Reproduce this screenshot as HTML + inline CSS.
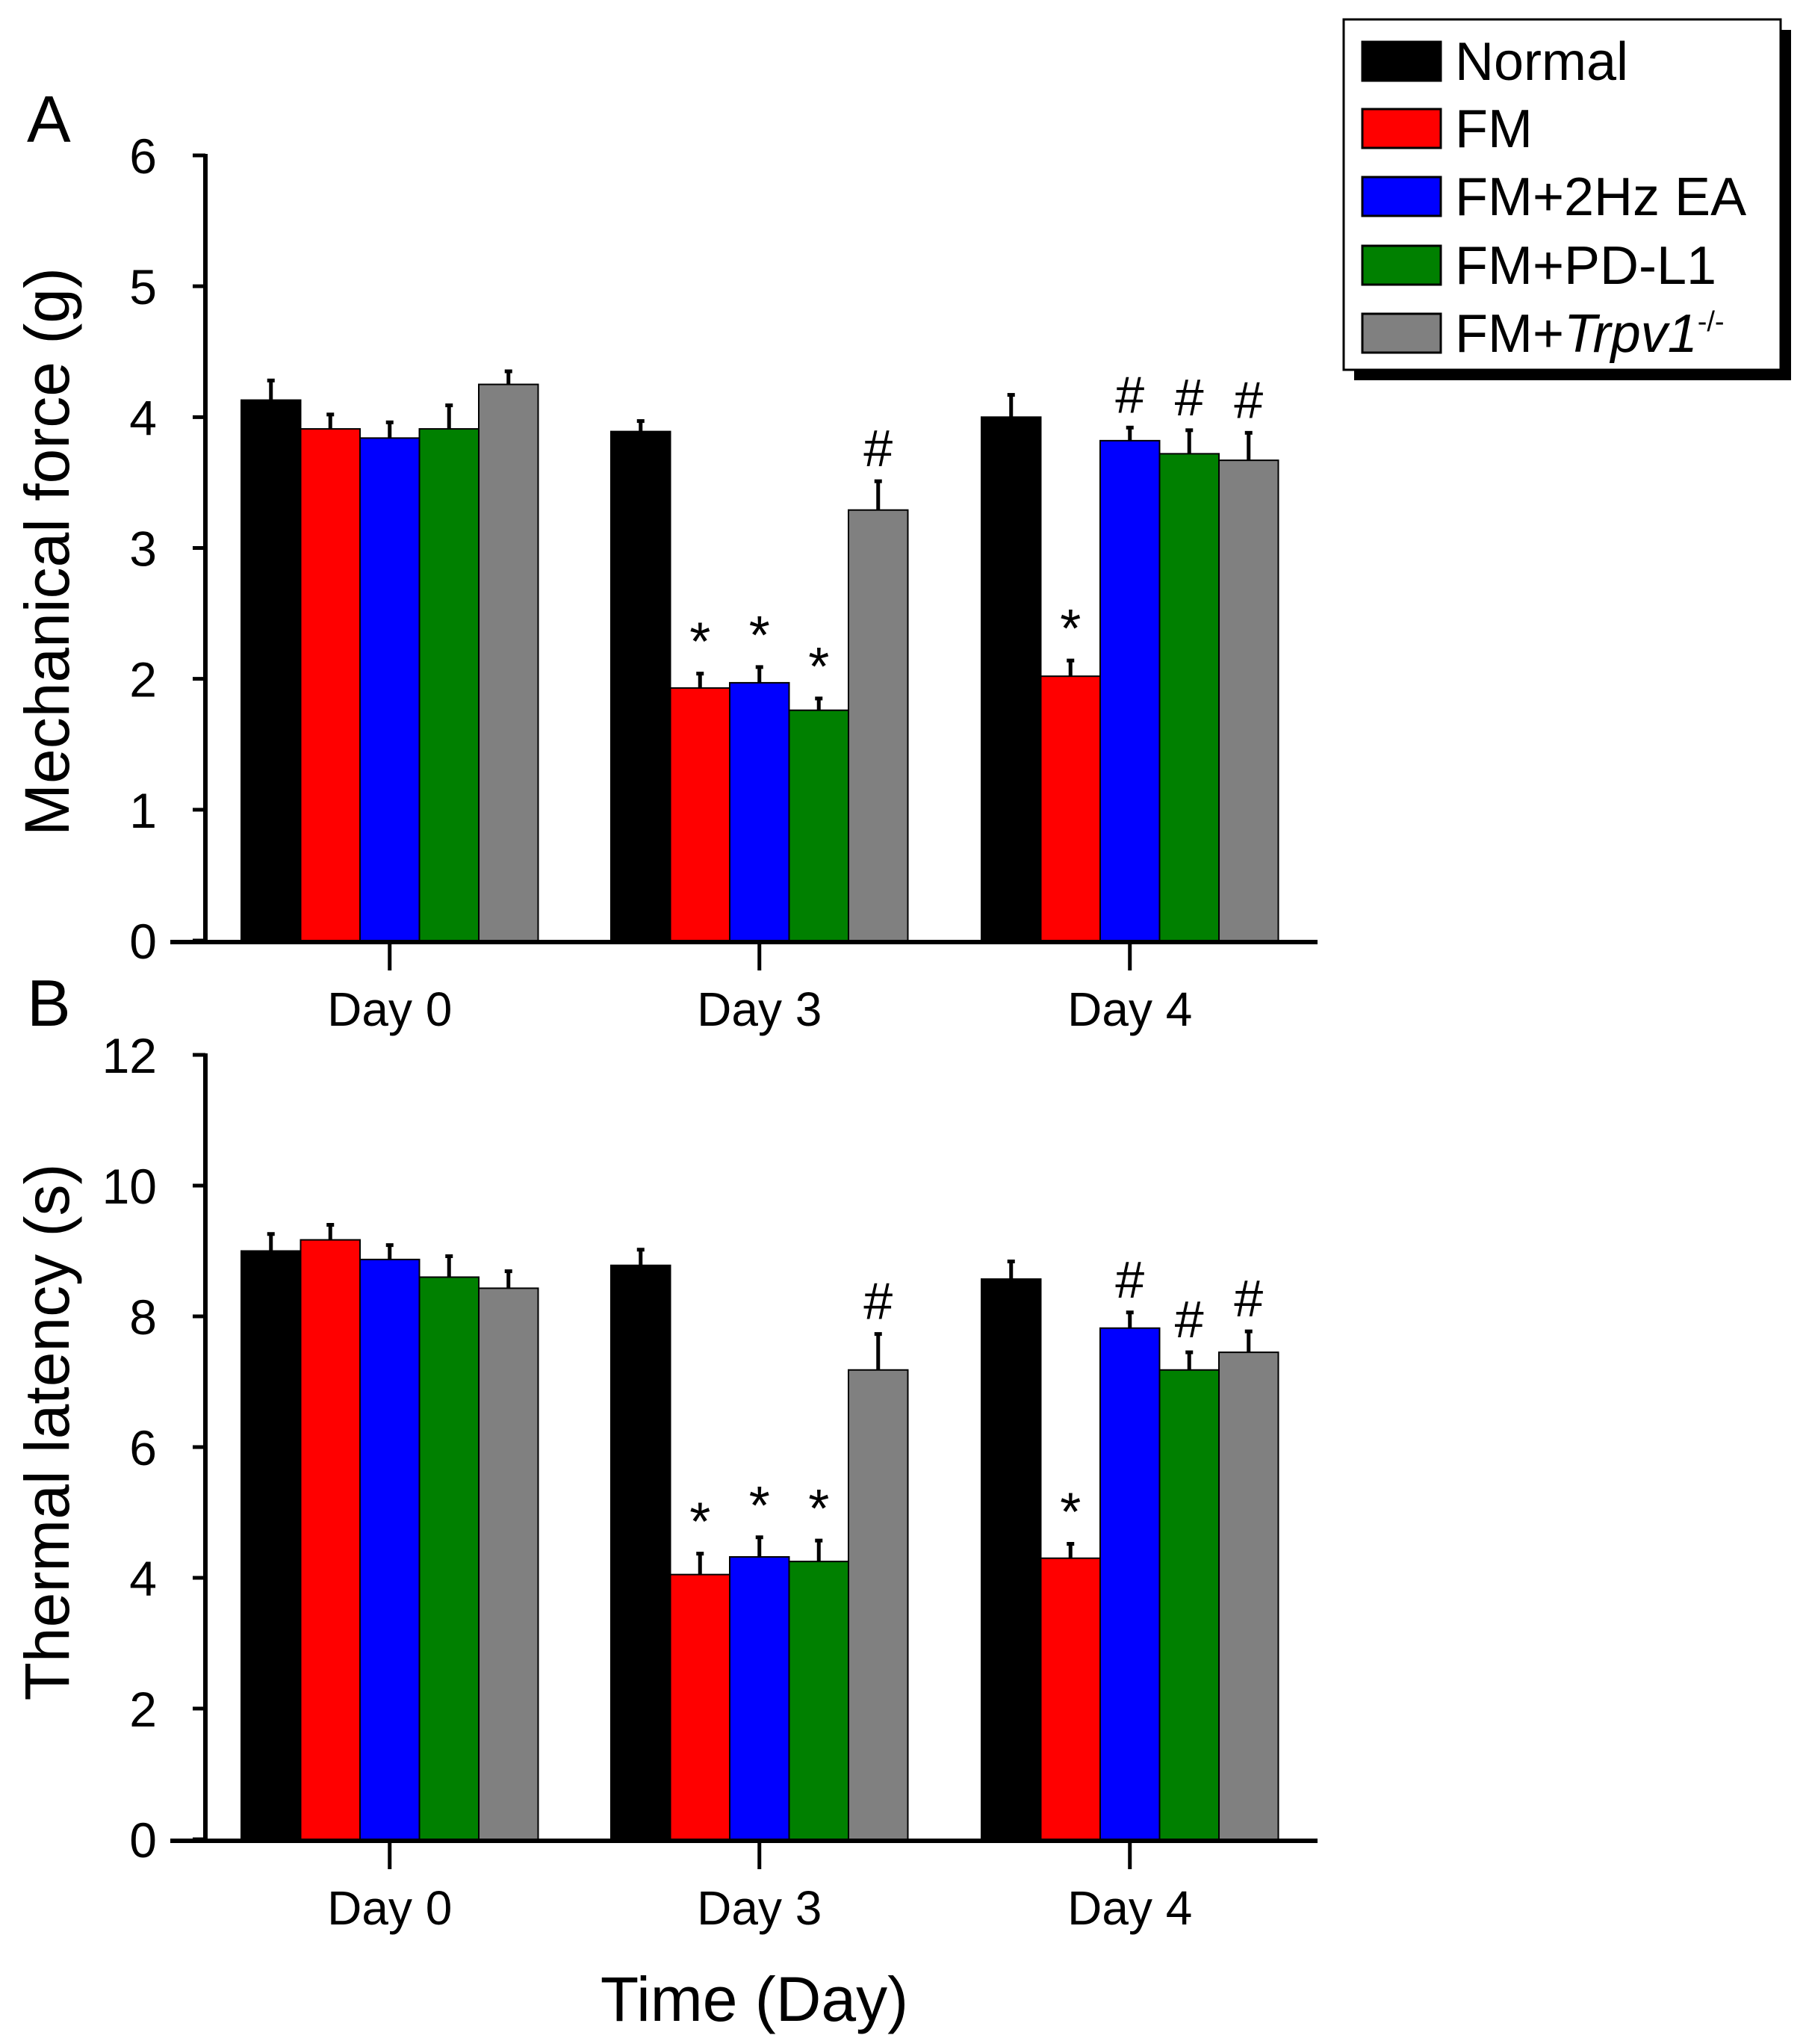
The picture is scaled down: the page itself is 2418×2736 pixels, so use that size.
<!DOCTYPE html>
<html><head><meta charset="utf-8"><style>
html,body{margin:0;padding:0;background:#fff}
svg{display:block;font-family:"Liberation Sans",Arial,sans-serif}
</style></head><body>
<svg id="chart" width="2418" height="2736" viewBox="0 0 2418 2736" xmlns="http://www.w3.org/2000/svg">
<rect width="2418" height="2736" fill="#fff"/>
<g id="legend">
  <rect x="1813" y="40" width="585" height="469" fill="#000"/>
  <rect x="1799" y="26" width="585" height="469" fill="#fff" stroke="#000" stroke-width="3"/>
</g>
<text x="36" y="190" font-size="88">A</text>
<text x="36" y="1373" font-size="88">B</text>
<text x="1010" y="2705" font-size="84" text-anchor="middle">Time (Day)</text>
</svg>
<script>
const categories = ["Day 0","Day 3","Day 4"];
const seriesNames = ["Normal","FM","FM+2Hz EA","FM+PD-L1","FM+Trpv1-/-"];
const colors = ["#000000","#ff0000","#0000ff","#008000","#808080"];
const mechValues = [[4.13,3.91,3.84,3.91,4.25],[3.89,1.93,1.97,1.76,3.29],[4.00,2.02,3.82,3.72,3.67]];
const mechErrors = [[0.15,0.11,0.12,0.18,0.10],[0.08,0.11,0.12,0.09,0.22],[0.17,0.12,0.10,0.18,0.21]];
const mechMarks = [["","","","",""],["","*","*","*","#"],["","*","#","#","#"]];
const mechTicks = [0,1,2,3,4,5,6];
const thermValues = [[9.00,9.17,8.87,8.60,8.43],[8.78,4.05,4.32,4.25,7.18],[8.57,4.30,7.82,7.18,7.45]];
const thermErrors = [[0.26,0.23,0.22,0.32,0.26],[0.24,0.32,0.30,0.32,0.55],[0.27,0.22,0.24,0.27,0.32]];
const thermMarks = [["","","","",""],["","*","*","*","#"],["","*","#","#","#"]];
const thermTicks = [0,2,4,6,8,10,12];

const NS="http://www.w3.org/2000/svg";
const svg=document.getElementById('chart');
function mk(tag,attrs,parent){const e=document.createElementNS(NS,tag);for(const k in attrs)e.setAttribute(k,attrs[k]);(parent||svg).appendChild(e);return e;}

function panel(cfg){
  const g=mk('g',{});
  
  
  const y=v=>cfg.y0-(v-cfg.min)/(cfg.max-cfg.min)*(cfg.y0-cfg.yTop);
  const bw=79.5, groupStart=[323,818,1314];
  const xBar=(ci,si)=>groupStart[ci]+si*bw;
  cfg.values.forEach((row,ci)=>row.forEach((v,si)=>{
    const x=xBar(ci,si), top=y(v), et=y(v+cfg.errors[ci][si]);
    const b=mk('rect',{x:x,y:top,width:bw,height:cfg.y0-top,fill:colors[si],stroke:'#000','stroke-width':2},g);
    
    
    const e=mk('line',{x1:x+bw/2,x2:x+bw/2,y1:top,y2:et,stroke:'#000','stroke-width':5},g);
    
    
    mk('line',{x1:x+bw/2-5,x2:x+bw/2+5,y1:et,y2:et,stroke:'#000','stroke-width':5},g);
    const m=cfg.marks[ci][si];
    if(m){
      const t=mk('text',{x:x+bw/2,y:et-(m=='*'?18:20),'font-size':m=='*'?72:70,'text-anchor':'middle'},g);
      t.textContent=m;
      
      
    }
  }));
  const ya=mk('line',{x1:275,x2:275,y1:cfg.yTop-2,y2:cfg.y0+3,stroke:'#000','stroke-width':6},g);
  
  
  const xa=mk('line',{x1:228,x2:1764,y1:cfg.y0+2,y2:cfg.y0+2,stroke:'#000','stroke-width':6},g);
  
  
  cfg.ticks.forEach(t=>{
    mk('line',{x1:258,x2:275,y1:y(t),y2:y(t),stroke:'#000','stroke-width':5},g);
    const tl=mk('text',{x:210,y:y(t)+24,'font-size':66,'text-anchor':'end'},g);
    tl.textContent=t;
    
    
  });
  categories.forEach((c,ci)=>{
    const cx=groupStart[ci]+2.5*bw;
    mk('line',{x1:cx,x2:cx,y1:cfg.y0+2,y2:cfg.y0+40,stroke:'#000','stroke-width':5},g);
    const tl=mk('text',{x:cx,y:cfg.y0+114,'font-size':64,'text-anchor':'middle'},g);
    tl.textContent=c;
    
    
  });
  const cy=(cfg.y0+cfg.yTop)/2+cfg.titleShift;
  const yt=mk('text',{x:0,y:0,'font-size':84,'text-anchor':'middle',transform:'translate(92,'+cy+') rotate(-90)'},g);
  yt.textContent=cfg.title;
  
  
}
panel({name:'panel-a-mechanical',key:'a',values:mechValues,errors:mechErrors,marks:mechMarks,ticks:mechTicks,min:0,max:6,y0:1259,yTop:208,title:'Mechanical force (g)',titleShift:5});
panel({name:'panel-b-thermal',key:'b',values:thermValues,errors:thermErrors,marks:thermMarks,ticks:thermTicks,min:0,max:12,y0:2462,yTop:1412,title:'Thermal latency (s)',titleShift:-20});

const lg=document.getElementById('legend');
const rowsY=[82,172,263,355,446];
seriesNames.forEach((n,i)=>{
  const r=mk('rect',{x:1824,y:rowsY[i]-26,width:105,height:52,fill:colors[i],stroke:'#000','stroke-width':3},lg);
  
  
  const t=mk('text',{x:1948,y:rowsY[i]+25,'font-size':72},lg);
  
  
  if(n.indexOf('Trpv1')>=0){
    const a=document.createElementNS(NS,'tspan');a.textContent='FM+';t.appendChild(a);
    const b=document.createElementNS(NS,'tspan');b.setAttribute('font-style','italic');b.textContent='Trpv1';t.appendChild(b);
    const c=document.createElementNS(NS,'tspan');c.setAttribute('font-size','38');c.setAttribute('dy','-28');c.textContent='-/-';t.appendChild(c);
  } else t.textContent=n;
});
</script>
</body></html>
